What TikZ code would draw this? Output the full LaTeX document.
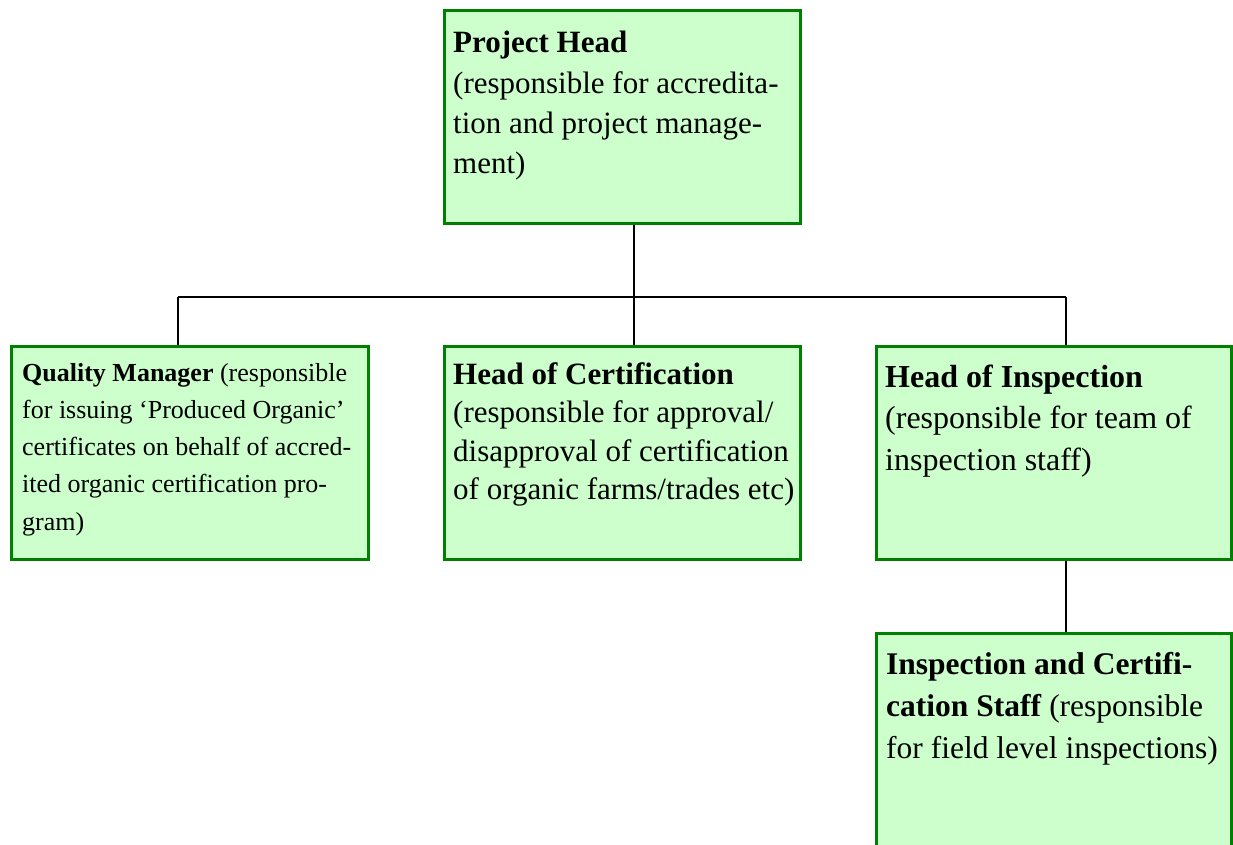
\documentclass[tikz,border=0pt]{standalone}
\usepackage{fontspec}
\setmainfont{Liberation Serif}
\definecolor{boxfill}{HTML}{CCFFCC}
\definecolor{boxline}{HTML}{008000}
\begin{document}
\begin{tikzpicture}[x=1pt,y=-1pt,
  orgbox/.style={draw=boxline, fill=boxfill, line width=3.2pt, rectangle, inner sep=0pt, outer sep=0pt, anchor=north west},
  orgtext/.style={anchor=north west, inner sep=0pt, align=left, font=\fontsize{31}{40}\selectfont},
  conn/.style={draw=black, line width=1.7pt}]
\useasboundingbox (0,0) rectangle (1233,844);
\clip (0,0) rectangle (1233,844);
% boxes
\node[orgbox, minimum width=356pt, minimum height=213pt] (ph) at (444.5,10.5) {};
\node[orgbox, minimum width=357pt, minimum height=213pt] (qm) at (11.5,346.5) {};
\node[orgbox, minimum width=356pt, minimum height=213pt] (hc) at (444.5,346.5) {};
\node[orgbox, minimum width=355pt, minimum height=213pt] (hi) at (876.5,346.5) {};
\node[orgbox, minimum width=355pt, minimum height=240pt] (is) at (876.5,633.5) {};
% connectors
\coordinate (bus) at (634,297);
\coordinate (busL) at (178,297);
\coordinate (busR) at (1066,297);
\draw[conn, shorten <=1.6pt] (ph.south -| bus) -- (bus);
\draw[conn] (busL) -- (busR);
\draw[conn, shorten >=1.6pt] (busL) -- (qm.north -| busL);
\draw[conn, shorten >=1.6pt] (bus) -- (hc.north -| bus);
\draw[conn, shorten >=1.6pt] (busR) -- (hi.north -| busR);
\draw[conn, shorten <=1.6pt, shorten >=1.6pt] (hi.south -| busR) -- (is.north -| busR);
% texts
\node[orgtext] (pht) at (453,31) {\textbf{Project Head}\\[1pt](responsible for accredita-\\tion and project manage-\\ment)};
\node[orgtext, font=\fontsize{26}{37.2}\selectfont] (qmt) at (22,363) {\textbf{Quality Manager} (responsible\\for issuing ‘Produced Organic’\\certificates on behalf of accred-\\ited organic certification pro-\\gram)};
\node[orgtext, font=\fontsize{31}{38.3}\selectfont] (hct) at (453,362.5) {\textbf{Head of Certification}\\(responsible for approval/\\disapproval of certification\\of organic farms/trades etc)};
\node[orgtext, font=\fontsize{32}{41.5}\selectfont] (hit) at (885,364.5) {\textbf{Head of Inspection}\\(responsible for team of\\inspection staff)};
\node[orgtext, font=\fontsize{31.5}{42}\selectfont] (ist) at (886,652) {\textbf{Inspection and Certifi-}\\\textbf{cation Staff} (responsible\\for field level inspections)};
\end{tikzpicture}
\end{document}
